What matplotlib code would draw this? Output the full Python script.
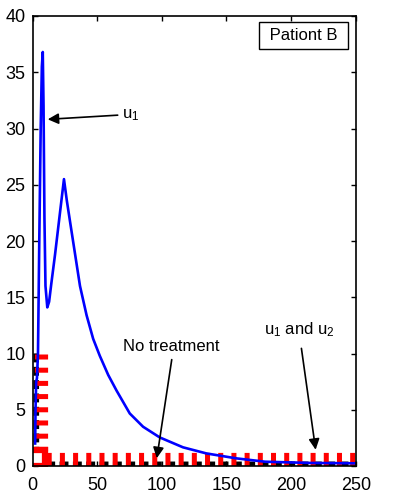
import matplotlib
matplotlib.use("Agg")
import matplotlib.pyplot as plt

plt.rcParams['font.family'] = ['Liberation Sans', 'DejaVu Sans']
plt.rcParams['mathtext.default'] = 'regular'

# blue curve
t_blue = [2.0, 2.3, 2.8, 3.4, 4.2, 5.2, 6.3, 7.2, 7.9, 8.5, 9.2, 10.0, 11.4,
          12.8, 14.5, 17.4, 21.2, 24.3, 26.5, 28.9, 32.8, 36.7, 41.8, 46.9,
          52.0, 58.5, 65.0, 75.2, 85.5, 98.4, 116.4, 134.4, 157.6,
          180.0, 215.0, 250.0]
y_blue = [2.0, 5.0, 7.5, 7.8, 10.0, 20.0, 30.0, 35.5, 36.8, 32.0, 22.0, 16.0,
          14.1, 14.6, 16.2, 18.8, 22.5, 25.5, 23.6, 21.8, 18.9, 16.0, 13.4,
          11.3, 9.8, 8.1, 6.7, 4.67, 3.49, 2.54, 1.66, 1.12, 0.68,
          0.38, 0.27, 0.24]

# red dashed control (u1 and u2)
t_red_v = [6.2, 6.2]
u_red_v = [10.0, 1.3]
t_red_h = [0.0, 250.0]
u_red_h = [0.58, 0.58]

# black dashed (no treatment)
t_black = [2.8, 3.0, 3.5, 250.0]
y_black = [10.0, 1.0, 0.15, 0.15]

fig = plt.figure(figsize=(3.97, 5.0), dpi=100)
ax = fig.add_axes([0.082, 0.068, 0.814, 0.9])

ax.plot(t_black, y_black, color='black', lw=4.0, linestyle=(0, (1.6, 0.8)))
ax.plot(t_red_v, u_red_v, color='red', lw=9.5, linestyle=(0, (0.38, 0.62)))
ax.plot(t_red_h, u_red_h, color='red', lw=9.5, linestyle=(0, (0.38, 0.62)))
ax.plot([3.3], [0.75], marker='s', ms=11, mfc='white', mec='red', mew=4.5, ls='none')
ax.plot(t_blue, y_blue, color=(0, 0, 1), lw=1.9)

ax.set_xlim(0, 250)
ax.set_ylim(0, 40)
ax.set_xticks([0, 50, 100, 150, 200, 250])
ax.set_yticks([0, 5, 10, 15, 20, 25, 30, 35, 40])
ax.tick_params(direction='in', length=3.5, width=1.0, top=True, right=True,
               labelsize=13)
ax.tick_params(axis='x', pad=8)
ax.tick_params(axis='y', pad=5)
for s in ax.spines.values():
    s.set_linewidth(1.2)

arrow = dict(arrowstyle='-|>', color='black', lw=1.2, mutation_scale=16)
ax.annotate('', xy=(9.6, 30.8), xytext=(68, 31.2), arrowprops=arrow)
ax.text(69, 31.2, 'u$_1$', fontsize=12, va='center', ha='left')

ax.text(107.5, 10.6, 'No treatment', fontsize=12, ha='center', va='center')
ax.annotate('', xy=(95.8, 0.45), xytext=(108, 9.7), arrowprops=arrow)

ax.text(206, 12.1, 'u$_1$ and u$_2$', fontsize=12, ha='center', va='center')
ax.annotate('', xy=(219.3, 1.2), xytext=(207.7, 10.7), arrowprops=arrow)

ax.text(0.838, 0.956, ' Pationt B ', transform=ax.transAxes, fontsize=12,
        ha='center', va='center',
        bbox=dict(boxstyle='square,pad=0.35', fc='white', ec='black', lw=1.0))

fig.savefig('out.png', dpi=100)
